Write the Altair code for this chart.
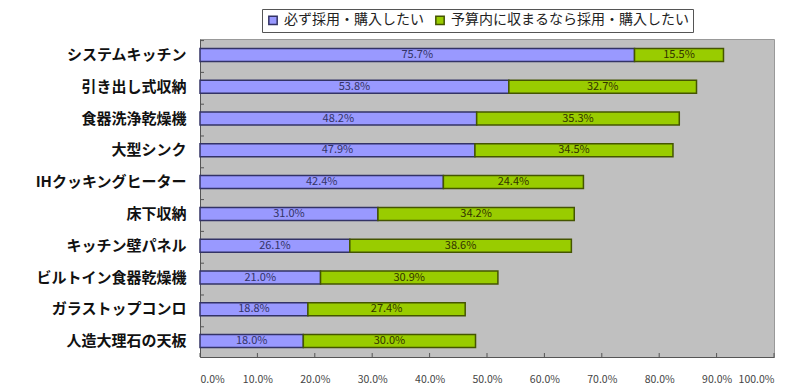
import altair as alt
import pandas as pd

categories = ["システムキッチン", "引き出し式収納", "食器洗浄乾燥機", "大型シンク",
              "IHクッキングヒーター", "床下収納", "キッチン壁パネル",
              "ビルトイン食器乾燥機", "ガラストップコンロ", "人造大理石の天板"]
series = ["必ず採用・購入したい", "予算内に収まるなら採用・購入したい"]
must = [75.7, 53.8, 48.2, 47.9, 42.4, 31.0, 26.1, 21.0, 18.8, 18.0]
budget = [15.5, 32.7, 35.3, 34.5, 24.4, 34.2, 38.6, 30.9, 27.4, 30.0]
x_ticks = [0, 10, 20, 30, 40, 50, 60, 70, 80, 90, 100]

rows = []
for c, a, b in zip(categories, must, budget):
    rows.append({"category": c, "series": series[0], "value": a, "order": 0})
    rows.append({"category": c, "series": series[1], "value": b, "order": 1})
df = pd.DataFrame(rows)

FONT = "Noto Sans CJK JP"
W, H = 574, 318

base = alt.Chart(df).transform_stack(
    stack="value", as_=["x0", "x1"], groupby=["category"],
    sort=[alt.SortField("order", order="ascending")]
).transform_calculate(mid="(datum.x0 + datum.x1) / 2",
                      label="format(datum.value, '.1f') + '%'")

yenc = alt.Y("category:N", sort=categories, title=None,
             axis=alt.Axis(labelFont=FONT, labelFontSize=15, labelFontWeight="bold",
                           labelColor="#111", labelPadding=14, ticks=False, labelLimit=0,
                           domainColor="#555", domainWidth=1))

xscale = alt.Scale(domain=[0, 100], nice=False)

bars = base.mark_bar(size=13, strokeWidth=1.5).encode(
    x=alt.X("x0:Q", scale=xscale, title=None,
            axis=alt.Axis(values=x_ticks, labelExpr="format(datum.value, '.1f') + '%'",
                          labelFont=FONT, labelFontSize=10.5, labelColor="#444",
                          labelPadding=17, ticks=False, grid=False, labelOverlap=False,
                          domainColor="#555", domainWidth=1)),
    x2="x1:Q",
    y=yenc,
    color=alt.Color("series:N", scale=alt.Scale(domain=series, range=["#9999ff", "#99cc00"]),
                    title=None,
                    legend=alt.Legend(orient="none", legendX=62, legendY=-30, direction="horizontal",
                                      symbolType="square", symbolSize=70, symbolStrokeWidth=1.5,
                                      symbolStrokeColor="#444", labelLimit=0,
                                      labelFont=FONT, labelFontSize=14, labelColor="#222",
                                      strokeColor="#555", fillColor="white", padding=4,
                                      columnPadding=8)),
    stroke=alt.Stroke("series:N", scale=alt.Scale(domain=series, range=["#333366", "#445500"]),
                      legend=None),
)

texts = base.mark_text(font=FONT, fontSize=11, baseline="middle", align="center").encode(
    x=alt.X("mid:Q", scale=xscale),
    y=alt.Y("category:N", sort=categories),
    text="label:N",
    color=alt.condition(alt.datum.series == series[0], alt.value("#333366"), alt.value("#333300")),
)

tick_df = pd.DataFrame({"t": x_ticks})
xticks = alt.Chart(tick_df).mark_rule(color="#555").encode(
    x=alt.X("t:Q", scale=xscale), y=alt.value(H), y2=alt.value(H - 4))

cat_df = pd.DataFrame({"category": categories})
yticks = alt.Chart(cat_df).mark_rule(color="#555").encode(
    y=alt.Y("category:N", sort=categories, bandPosition=0),
    x=alt.value(0), x2=alt.value(4))

chart = alt.layer(bars, texts, xticks, yticks).properties(
    width=W, height=H,
    autosize=alt.AutoSizeParams(type="none"),
    padding={"left": 192, "top": 31, "right": 18, "bottom": 40},
).configure_view(fill="#c0c0c0", stroke="#999", strokeWidth=1)

chart.save("out.html", embed_options={"renderer": "svg", "actions": False})
